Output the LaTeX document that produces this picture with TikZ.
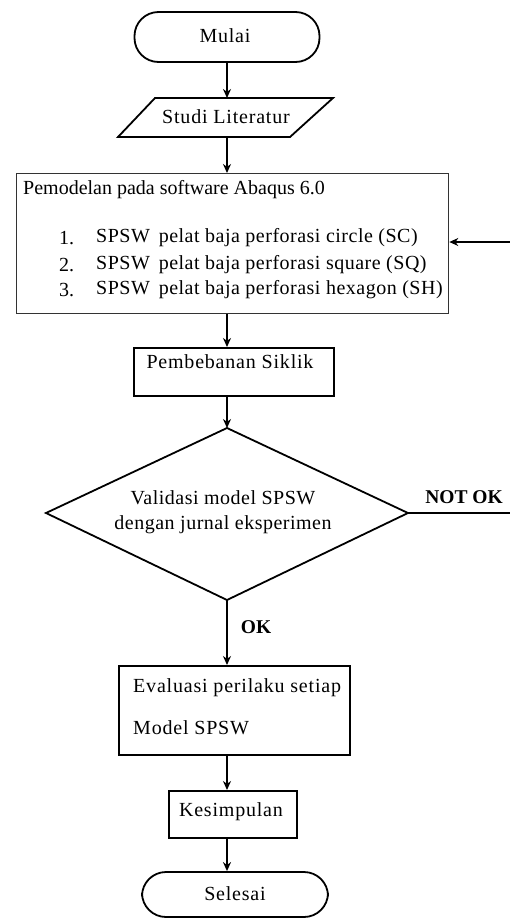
\documentclass[tikz,border=0pt]{standalone}
\usepackage{fontspec}
\setmainfont{Liberation Serif}
\newfontfamily\spacedfont[LetterSpace=4]{Liberation Serif}
\newfontfamily\itemfont[LetterSpace=2.5]{Liberation Serif}
\usetikzlibrary{arrows.meta,calc}
\begin{document}
\begin{tikzpicture}[x=1pt,y=-1pt,
  line/.style={line width=1.8pt,draw=black},
  arr/.style={line width=1.8pt,-{Stealth[length=9pt,width=8pt]}},
  txt/.style={font=\spacedfont\fontsize{20}{24}\selectfont,inner sep=0pt},
  itm/.style={font=\itemfont\fontsize{20}{24}\selectfont,inner sep=0pt},
  plain/.style={font=\fontsize{20}{24}\selectfont,inner sep=0pt},
  bold/.style={font=\fontsize{19.5}{24}\selectfont\bfseries,inner sep=0pt},
  term/.style={line,rounded corners=24pt,inner sep=0pt},
  boxx/.style={line,inner sep=0pt,anchor=north west}]
\useasboundingbox (0,0) rectangle (510,919);
% Mulai
\node[term,minimum width=185pt,minimum height=50pt] (mulai) at (227,37) {};
\node[txt] (tmulai) at (225,36) {Mulai};
% Studi Literatur
\coordinate (sA) at (155,98); \coordinate (sB) at (333,98);
\coordinate (sC) at (290,137); \coordinate (sD) at (118,137);
\draw[line,line join=miter] (sA) -- (sB) -- (sC) -- (sD) -- cycle;
\coordinate (stop) at (227,98); \coordinate (sbot) at (227,137);
\node[txt] (studi) at (226,117) {Studi Literatur};
% Model box
\node[boxx,line width=1.3pt,draw=black!80,minimum width=432pt,minimum height=140pt] (model) at (16,173) {};
\node[plain,anchor=west] (t0) at (23,190) {Pemodelan pada software Abaqus 6.0};
\node[plain,anchor=west] (n1) at (59,238) {1.};
\node[plain,anchor=west] (n2) at (59,265) {2.};
\node[plain,anchor=west] (n3) at (59,290) {3.};
\node[itm,anchor=west] (i1) at (96,238) {SPSW\, pelat baja perforasi circle (SC)};
\node[itm,anchor=west] (i2) at (96,265) {SPSW\, pelat baja perforasi square (SQ)};
\node[itm,anchor=west] (i3) at (96,290) {SPSW\, pelat baja perforasi hexagon (SH)};
% Pembebanan
\node[boxx,minimum width=200pt,minimum height=48pt] (beban) at (133,347) {};
\node[txt] (tbeban) at (230,362) {Pembebanan Siklik};
% Diamond
\coordinate (dT) at (227,428); \coordinate (dR) at (408,513);
\coordinate (dB) at (227,600); \coordinate (dL) at (46,513);
\draw[line,line join=miter] (dT) -- (dR) -- (dB) -- (dL) -- cycle;
\node[itm] (v1) at (223,498) {Validasi model SPSW};
\node[itm] (v2) at (223,525) {dengan jurnal eksperimen};
\coordinate (nok) at (510,513);
\coordinate (back) at (510,242);
\node[bold] (lnok) at (464,497) {NOT OK};
\node[bold] (lok) at (256,627) {OK};
% Evaluasi
\node[boxx,minimum width=231pt,minimum height=89pt] (eval) at (118,665) {};
\node[txt,anchor=west] (e1) at (133,688) {Evaluasi perilaku setiap};
\node[txt,anchor=west] (e2) at (133,728) {Model SPSW};
% Kesimpulan
\node[boxx,minimum width=128pt,minimum height=47pt] (kes) at (168,790) {};
\node[txt] (tkes) at (231,812) {Kesimpulan};
% Selesai
\node[term,minimum width=186pt,minimum height=45pt] (selesai) at (235,894.5) {};
\node[txt] (tsel) at (235,894) {Selesai};
% connectors
\draw[arr] (mulai.south) -- (stop);
\draw[arr] (sbot) -- (model.north -| sbot);
\draw[arr] (model.south -| sbot) -- (beban.north -| sbot);
\draw[arr] (beban.south -| sbot) -- (dT);
\draw[line] (dR) -- (nok);
\draw[arr] (back) -- (model.east |- back);
\draw[arr] (dB) -- (eval.north -| dB);
\draw[arr] (eval.south -| dB) -- (kes.north -| dB);
\draw[arr] (kes.south -| dB) -- (selesai.north -| dB);
\end{tikzpicture}
\end{document}
